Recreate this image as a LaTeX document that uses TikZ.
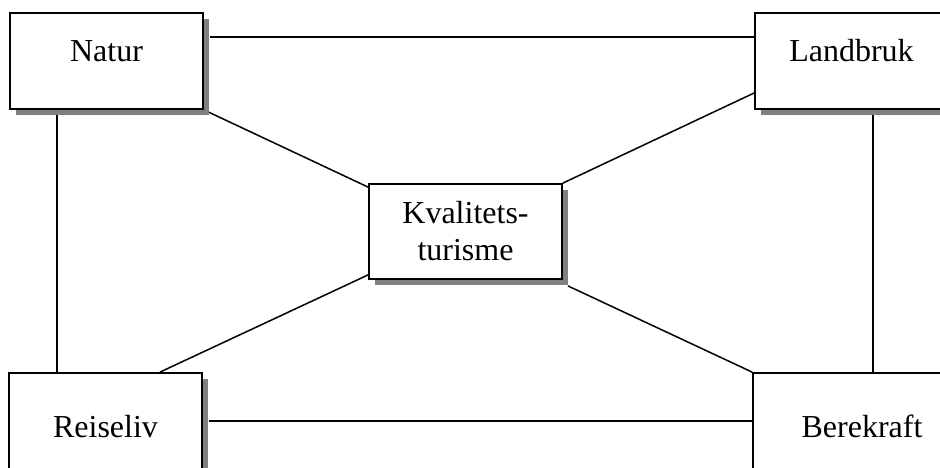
\documentclass[tikz,border=0pt]{standalone}
\usepackage{fontspec}
\setmainfont{Liberation Serif}
\usetikzlibrary{shadows,backgrounds}
\definecolor{shadowgray}{RGB}{128,128,128}
\tikzset{
  box/.style={draw=black, fill=white, line width=1.8pt, inner sep=0pt,
    font=\fontsize{32}{37}\selectfont, minimum width=193pt,
    drop shadow={shadow xshift=6pt, shadow yshift=-6pt, fill=shadowgray, opacity=1}},
  topbox/.style={box, text height=49pt, text depth=47pt, anchor=base},
  botbox/.style={box, text height=64pt, text depth=32pt, anchor=base},
  conn/.style={line width=1.5pt, black}
}
\begin{document}
\begin{tikzpicture}[x=1pt,y=1pt]
\useasboundingbox (0,0) rectangle (940,-468);
\clip (0,0) rectangle (940,-468);
\node[topbox] (natur) at (106.5,-62) {Natur};
\node[topbox] (landbruk) at (851.5,-62) {Landbruk};
\node[botbox] (reiseliv) at (105.5,-437) {Reiseliv};
\node[botbox, minimum width=218pt] (berekraft) at (862,-437) {Berekraft};
\node[box, align=center, minimum height=95pt] (kval) at (465.5,-231.5) {Kvalitets-\\turisme};
\begin{scope}[on background layer]
\draw[conn] ([shift={(6,24)}]natur.east) -- ([yshift=24]landbruk.west);
\draw[conn] ([xshift=-49.5]natur.south) -- ([xshift=-48.5]reiseliv.north);
\draw[conn] ([xshift=21.5]landbruk.south) -- ([xshift=11]berekraft.north);
\draw[conn] ([xshift=6]reiseliv.east) -- (berekraft.west);
\draw[conn] (natur.south east) -- ([yshift=-4]kval.north west);
\draw[conn] ([yshift=-32]landbruk.west) -- (kval.north east);
\draw[conn] ([xshift=54.5]reiseliv.north) -- ([yshift=5]kval.south west);
\draw[conn] ([shift={(5,-6)}]kval.south east) -- (berekraft.north west);
\end{scope}
\end{tikzpicture}
\end{document}
